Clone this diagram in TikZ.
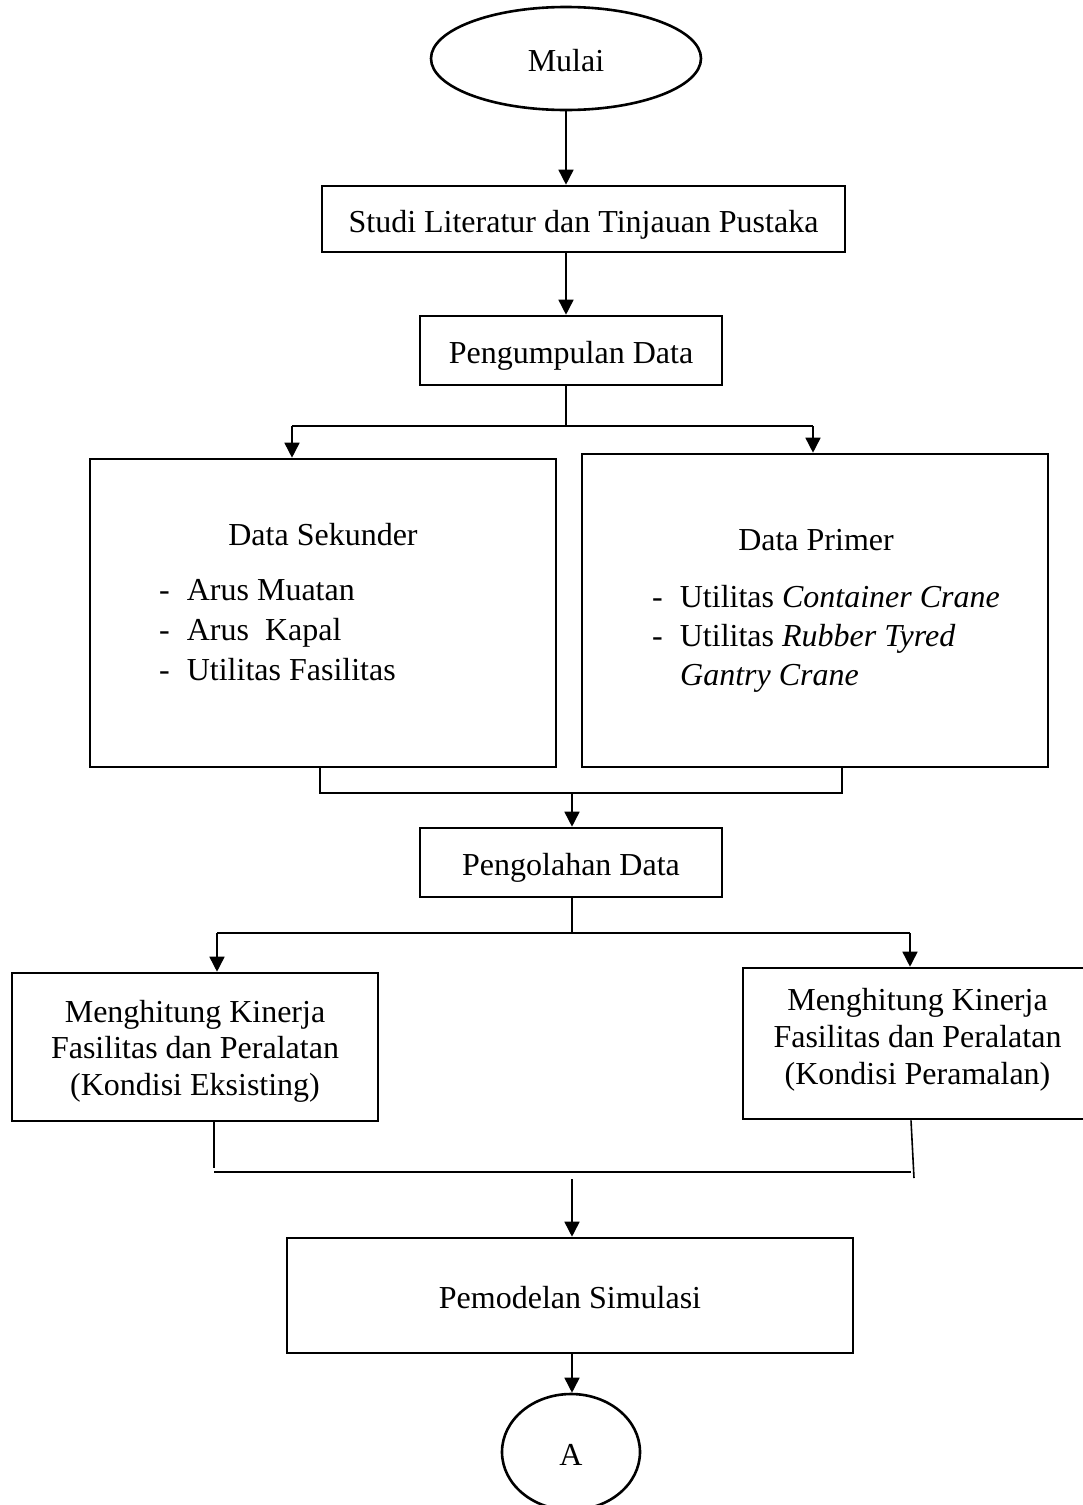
\documentclass[tikz,border=0pt]{standalone}
\usepackage{fontspec}
\setmainfont{Liberation Serif}
\usetikzlibrary{shapes.geometric,arrows.meta}
\begin{document}
\begin{tikzpicture}[x=1pt,y=-1pt,
  every node/.style={font=\fontsize{32}{37}\selectfont},
  procbox/.style={draw, line width=2.6pt, rectangle, inner sep=0pt, align=center},
  term/.style={draw, line width=2.6pt, ellipse, inner sep=0pt},
  oneline/.style={text height=26pt, text depth=0pt},
  conn/.style={line width=1.6pt},
  flow/.style={line width=1.6pt, -{Triangle[length=15pt,width=15pt]}},
  bus/.style={line width=2.4pt},
  itemtext/.style={inner sep=0pt, anchor=base west},
  titletext/.style={inner sep=0pt, anchor=base},
]
\clip (0,0) rectangle (1083,1505);

% --- process nodes ---
\node[term, oneline, minimum width=270pt, minimum height=103pt] (mulai) at (566,58.5) {Mulai};
\node[procbox, oneline, minimum width=523pt, minimum height=66pt] (studi) at (583.5,219) {Studi Literatur dan Tinjauan Pustaka};
\node[procbox, oneline, minimum width=302pt, minimum height=69pt] (kumpul) at (571,350.5) {Pengumpulan Data};
\node[procbox, minimum width=466pt, minimum height=308pt] (sekunder) at (323,613) {};
\node[procbox, minimum width=466pt, minimum height=313pt] (primer) at (815,610.5) {};
\node[procbox, oneline, minimum width=302pt, minimum height=69pt] (olah) at (571,862.5) {Pengolahan Data};
\node[procbox, minimum width=366pt, minimum height=148pt] (eksisting) at (195,1047) {};
\node[procbox, minimum width=349pt, minimum height=151pt] (ramal) at (917.5,1043.5) {};
\node[procbox, oneline, minimum width=566pt, minimum height=115pt] (model) at (570,1295.5) {Pemodelan Simulasi};
\node[term, oneline, minimum width=138pt, minimum height=116pt] (konektor) at (571,1452) {A};

% --- contents of the data boxes ---
\node[titletext] (sekjudul) at (323,545) {Data Sekunder};
\node[itemtext] (sek1) at (159,600) {-\hspace{17pt}Arus Muatan};
\node[itemtext] (sek2) at (159,640) {-\hspace{17pt}Arus\ \ Kapal};
\node[itemtext] (sek3) at (159,680) {-\hspace{17pt}Utilitas Fasilitas};

\node[titletext] (prijudul) at (816,550) {Data Primer};
\node[itemtext] (pri1) at (652,607) {-\hspace{17pt}Utilitas \textit{Container Crane}};
\node[itemtext] (pri2) at (652,646) {-\hspace{17pt}Utilitas \textit{Rubber Tyred}};
\node[itemtext] (pri3) at (680,685) {\textit{Gantry Crane}};

% --- contents of the performance boxes ---
\node[titletext] (eks1) at (195,1022) {Menghitung Kinerja};
\node[titletext] (eks2) at (195,1058) {Fasilitas dan Peralatan};
\node[titletext] (eks3) at (195,1095) {(Kondisi Eksisting)};

\node[titletext] (ram1) at (917.5,1010) {Menghitung Kinerja};
\node[titletext] (ram2) at (917.5,1047) {Fasilitas dan Peralatan};
\node[titletext] (ram3) at (917.5,1084) {(Kondisi Peramalan)};

% --- junction points ---
\coordinate (sekIn) at (292,426);
\coordinate (priIn) at (813,426);
\coordinate (sekOut) at (320,793);
\coordinate (priOut) at (842,793);
\coordinate (merge1) at (572,793);
\coordinate (split2) at (572,933);
\coordinate (eksIn) at (217,933);
\coordinate (ramIn) at (910,933);
\coordinate (eksOut) at (214,1168);
\coordinate (busL) at (214,1172);
\coordinate (busR) at (911,1172);
\coordinate (ramOut) at (914,1178);
\coordinate (modIn) at (572,1179);

% --- connectors ---
\draw[flow] (mulai.south) -- (mulai.south |- studi.north);
\draw[flow] (mulai.south |- studi.south) -- (mulai.south |- kumpul.north);
\draw[conn] (mulai.south |- kumpul.south) -- (mulai.south |- sekIn);
\draw[bus] (sekIn) -- (priIn);
\draw[flow] (sekIn) -- (sekIn |- sekunder.north);
\draw[flow] (priIn) -- (priIn |- primer.north);

\draw[bus] (sekOut |- sekunder.south) -- (sekOut) -- (priOut) -- (priOut |- primer.south);
\draw[flow] (merge1) -- (merge1 |- olah.north);

\draw[conn] (merge1 |- olah.south) -- (split2);
\draw[bus] (eksIn) -- (ramIn);
\draw[flow] (eksIn) -- (eksIn |- eksisting.north);
\draw[flow] (ramIn) -- (ramIn |- ramal.north);

\draw[conn] (eksOut |- eksisting.south) -- (eksOut);
\draw[bus] (busL) -- (busR);
\draw[conn] (busR |- ramal.south) -- (ramOut);

\draw[flow] (modIn) -- (modIn |- model.north);
\draw[flow] (modIn |- model.south) -- (modIn |- konektor.north);
\end{tikzpicture}
\end{document}
